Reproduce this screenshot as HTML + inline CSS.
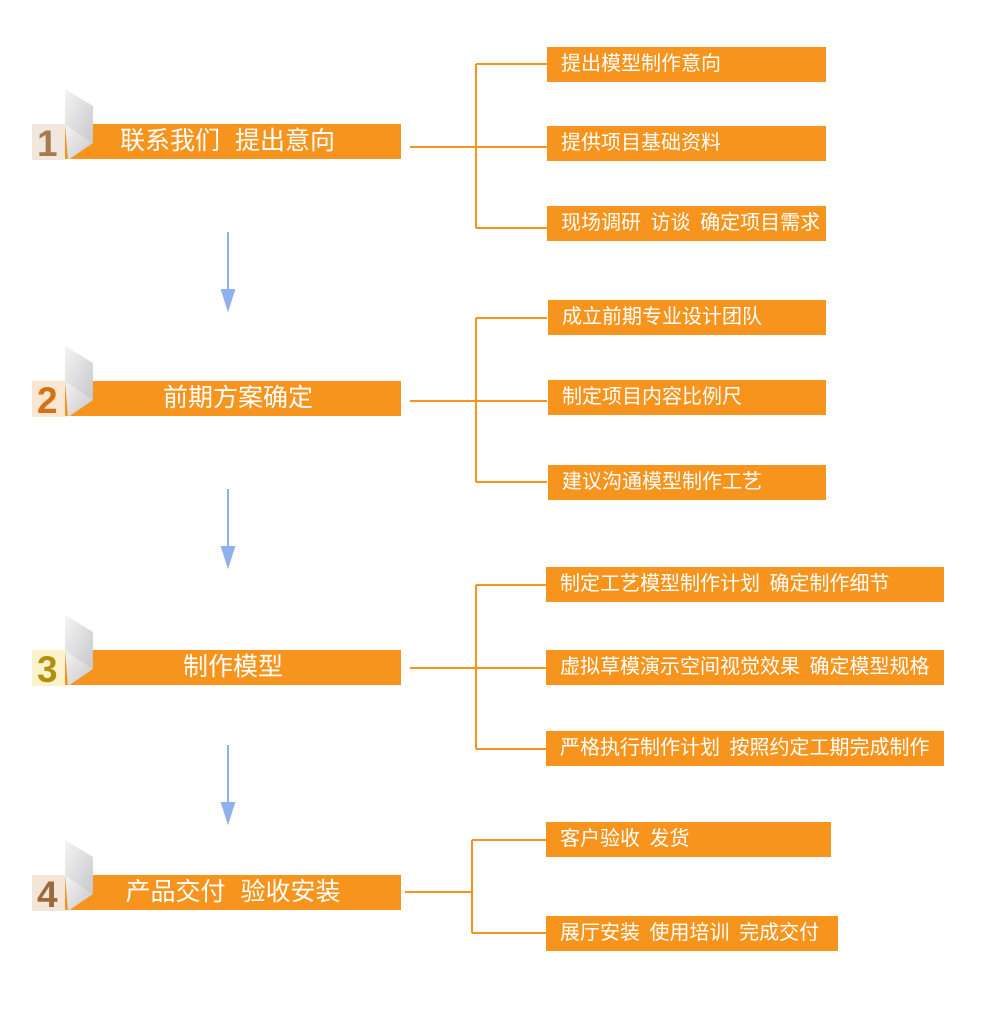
<!DOCTYPE html><html><head><meta charset="utf-8"><style>
body{margin:0;width:993px;height:1013px;background:#fff;position:relative;overflow:hidden;font-family:"Liberation Sans","Noto Sans CJK SC",sans-serif}
.bar{position:absolute;left:65px;width:336px;height:35px;background:#f7941d;color:#fff;font-size:25px;line-height:35px;word-spacing:8px;white-space:nowrap}
.b{position:absolute;background:#f7941d;color:#fff;font-size:20px;line-height:35px;height:35px;padding-left:14px;box-sizing:border-box;word-spacing:4px;white-space:nowrap}
.bd{position:absolute;left:32px;width:34px;height:36px;font-size:37px;font-weight:bold;line-height:40px;padding-left:5px;box-sizing:border-box}
svg{position:absolute;left:0;top:0}
</style></head><body>
<div class="bd" style="top:124px;background:#f1e7dc;color:#a87a50">1</div>
<div class="bd" style="top:381px;background:#fbe6cf;color:#d2731c">2</div>
<div class="bd" style="top:650px;background:#fbf3c9;color:#b38f10">3</div>
<div class="bd" style="top:875px;background:#f3e6d8;color:#9b6a3a">4</div>
<div class="bar" style="top:124px;padding-left:55px;box-sizing:border-box">联系我们 提出意向</div>
<div class="bar" style="top:381px;text-align:center;padding-left:10px;box-sizing:border-box">前期方案确定</div>
<div class="bar" style="top:650px;text-align:center;box-sizing:border-box">制作模型</div>
<div class="bar" style="top:875px;text-align:center;box-sizing:border-box">产品交付 验收安装</div>
<svg width="993" height="1013">
<defs><linearGradient id="g" x1="0" y1="0" x2="1" y2="1"><stop offset="0" stop-color="#f4f4f4"/><stop offset="1" stop-color="#c8c8cc"/></linearGradient></defs>
<g fill="url(#g)">
<polygon points="65,89 93,106 93,143 65,124"/><polygon points="65,124 93,143 68,160"/>
<polygon points="65,346 93,363 93,400 65,381"/><polygon points="65,381 93,400 68,417"/>
<polygon points="65,615 93,632 93,669 65,650"/><polygon points="65,650 93,669 68,686"/>
<polygon points="65,840 93,857 93,894 65,875"/><polygon points="65,875 93,894 68,911"/>
</g>
<g stroke="#f7941d" stroke-width="2" fill="none">
<path d="M410 147H476M476 64V228M476 64H547M476 147H547M476 228H547"/>
<path d="M410 401H476M476 318V482M476 318H547M476 401H547M476 482H547"/>
<path d="M410 668H476M476 585V749M476 585H546M476 668H546M476 749H546"/>
<path d="M405 892H472M472 840V933M472 840H546M472 933H546"/>
</g>
<g stroke="#8fb0ee" stroke-width="2" fill="#8fb0ee">
<path d="M228 232V296"/><polygon points="222,290 234,290 228,309"/>
<path d="M228 489V553"/><polygon points="222,547 234,547 228,566"/>
<path d="M228 745V809"/><polygon points="222,803 234,803 228,822"/>
</g>
</svg>
<div class="b" style="left:547px;top:47px;width:279px">提出模型制作意向</div>
<div class="b" style="left:547px;top:126px;width:279px">提供项目基础资料</div>
<div class="b" style="left:547px;top:206px;width:279px">现场调研 访谈 确定项目需求</div>
<div class="b" style="left:548px;top:300px;width:278px">成立前期专业设计团队</div>
<div class="b" style="left:548px;top:380px;width:278px">制定项目内容比例尺</div>
<div class="b" style="left:548px;top:465px;width:278px">建议沟通模型制作工艺</div>
<div class="b" style="left:546px;top:567px;width:398px">制定工艺模型制作计划 确定制作细节</div>
<div class="b" style="left:546px;top:650px;width:398px">虚拟草模演示空间视觉效果 确定模型规格</div>
<div class="b" style="left:546px;top:731px;width:398px">严格执行制作计划 按照约定工期完成制作</div>
<div class="b" style="left:546px;top:822px;width:285px">客户验收 发货</div>
<div class="b" style="left:546px;top:916px;width:292px">展厅安装 使用培训 完成交付</div>
</body></html>
